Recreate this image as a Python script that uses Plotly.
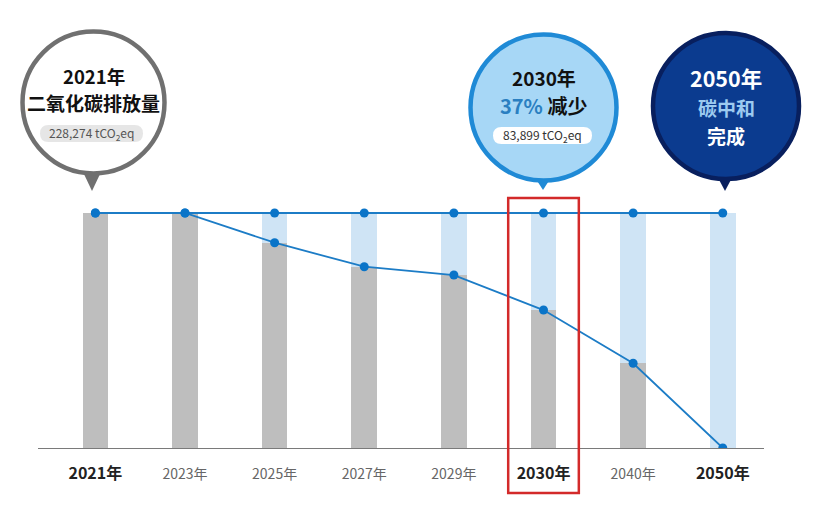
import plotly.graph_objects as go

# ---- data ----
years = ["2021年", "2023年", "2025年", "2027年", "2029年", "2030年", "2040年", "2050年"]
baseline_2021 = 228274
emissions = [228274, 228274, 199400, 176100, 168000, 134000, 82300, 0]
baseline = [baseline_2021] * len(years)
bold_labels = ["2021年", "2030年", "2050年"]

W, H = 830, 516
def X(px): return px / W
def Y(py): return 1 - py / H

idx = list(range(len(years)))
ymax = baseline_2021 * 448 / 235

fig = go.Figure()
fig.add_trace(go.Bar(x=idx, y=baseline, width=0.286, marker=dict(color="#cfe4f5", line_width=0),
                     hoverinfo="skip", showlegend=False))
fig.add_trace(go.Bar(x=idx, y=emissions, width=0.286, marker=dict(color="#bebebe", line_width=0),
                     showlegend=False))
fig.add_trace(go.Scatter(x=idx, y=baseline, mode="lines+markers",
                         line=dict(color="#1c7cc6", width=1.8),
                         marker=dict(color="#0a74c8", size=9), showlegend=False))
fig.add_trace(go.Scatter(x=idx, y=emissions, mode="lines+markers",
                         line=dict(color="#1c7cc6", width=1.8),
                         marker=dict(color="#0a74c8", size=9), showlegend=False))

ticktext = []
for y in years:
    if y in bold_labels:
        ticktext.append(f"<b><span style='font-size:16px;color:#222'>{y}</span></b>")
    else:
        ticktext.append(f"<span style='font-size:14px;color:#666'>{y}</span>")

shapes = []
annotations = []

def circle(cx, cy, r, fill, stroke, sw):
    shapes.append(dict(type="circle", xref="paper", yref="paper",
                       x0=X(cx - r), x1=X(cx + r), y0=Y(cy + r), y1=Y(cy - r),
                       fillcolor=fill, line=dict(color=stroke, width=sw), layer="above"))

def pointer(cx, ytop, ytip, half, color):
    path = f"M {X(cx-half)} {Y(ytop)} L {X(cx+half)} {Y(ytop)} L {X(cx)} {Y(ytip)} Z"
    shapes.append(dict(type="path", xref="paper", yref="paper", path=path,
                       fillcolor=color, line=dict(color=color, width=0), layer="above"))

def pill(x0, y0, x1, y1, fill):
    r = (y1 - y0) / 2
    p = (f"M {X(x0+r)} {Y(y0)} L {X(x1-r)} {Y(y0)} "
         f"Q {X(x1)} {Y(y0)} {X(x1)} {Y(y0+r)} Q {X(x1)} {Y(y1)} {X(x1-r)} {Y(y1)} "
         f"L {X(x0+r)} {Y(y1)} Q {X(x0)} {Y(y1)} {X(x0)} {Y(y0+r)} Q {X(x0)} {Y(y0)} {X(x0+r)} {Y(y0)} Z")
    shapes.append(dict(type="path", xref="paper", yref="paper", path=p,
                       fillcolor=fill, line=dict(width=0), layer="above"))

def text(px, py, t, size, color, bold=True):
    if bold:
        t = f"<b>{t}</b>"
    annotations.append(dict(x=X(px), y=Y(py), xref="paper", yref="paper", text=t,
                            showarrow=False, xanchor="center", yanchor="middle",
                            font=dict(size=size, color=color, family="Noto Sans CJK SC")))

# 2021 bubble
pointer(92, 172, 191, 9, "#707070")
circle(93.5, 102.5, 71, "#ffffff", "#707070", 4.5)
text(93.5, 76, "2021年", 18.5, "#111")
text(93.5, 102, "二氧化碳排放量", 19, "#111")
pill(40, 125, 143, 142, "#e6e6e6")
text(91.5, 133.5, "228,274 tCO<sub>2</sub>eq", 12, "#555", bold=False)

# 2030 bubble
pointer(543, 176, 190, 9, "#1f8ad6")
circle(543.5, 107.5, 73, "#a7d7f6", "#1f8ad6", 4.5)
text(543.5, 77, "2030年", 19, "#111")
text(543.5, 105, "<span style='color:#2a7fc1'>37%</span> 减少", 20, "#111")
pill(493, 127, 592, 144, "#ffffff")
text(542.5, 135.5, "83,899 tCO<sub>2</sub>eq", 12, "#333", bold=False)

# 2050 bubble
pointer(725, 174, 191, 9, "#081f5e")
circle(726, 106, 73, "#0b3b8f", "#081f5e", 4.5)
text(726, 77, "2050年", 21.5, "#ffffff")
text(726, 107, "碳中和", 19, "#9ccaf0")
text(726, 135, "完成", 19, "#ffffff")

# red highlight around 2030
shapes.append(dict(type="rect", xref="x", yref="paper", x0=5 - 0.394, x1=5 + 0.394,
                   y0=Y(493), y1=Y(198), line=dict(color="#d32a2a", width=2.5),
                   fillcolor="rgba(0,0,0,0)", layer="above"))

fig.update_layout(
    width=W, height=H,
    margin=dict(l=0, r=0, t=0, b=0),
    paper_bgcolor="white", plot_bgcolor="white",
    barmode="overlay", bargap=0,
    font=dict(family="Noto Sans CJK SC"),
    xaxis=dict(domain=[X(38), X(764)], range=[-0.64, 7.46], tickvals=idx, ticktext=ticktext,
               showgrid=False, zeroline=False, showline=True, linecolor="#7a7a7a", linewidth=1.2,
               ticks="outside", ticklen=15, tickcolor="rgba(0,0,0,0)", fixedrange=True),
    yaxis=dict(domain=[Y(448), 1], range=[0, ymax], visible=False, fixedrange=True),
    shapes=shapes, annotations=annotations,
)

fig.write_html("out.html", config={"displayModeBar": False},
               post_script="document.body.style.margin='0';document.body.style.overflow='hidden';")
